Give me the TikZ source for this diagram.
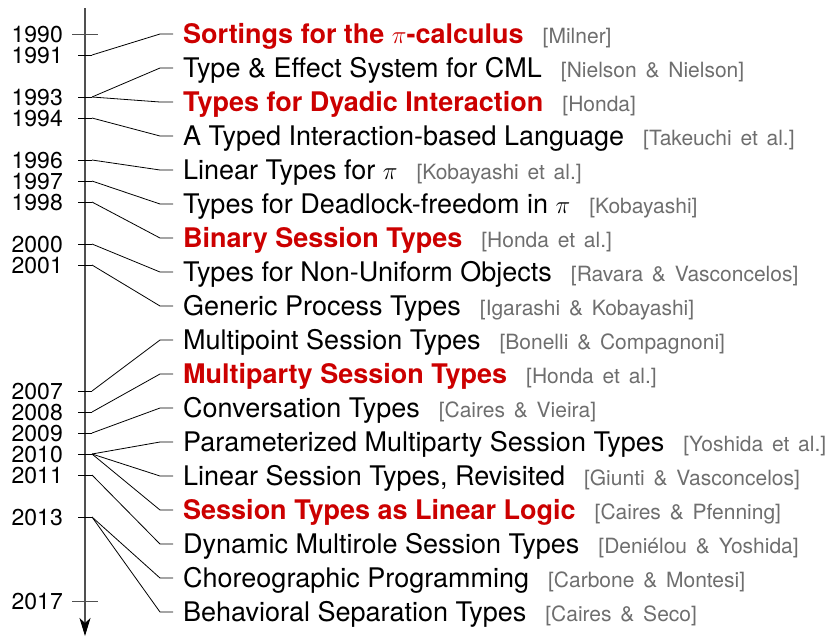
\documentclass[tikz,border=0pt]{standalone}
\usepackage{fontspec}
\setmainfont{TeX Gyre Heros}
\usetikzlibrary{arrows.meta}

\definecolor{keyred}{HTML}{CC0000}
\definecolor{citegray}{HTML}{6E6E6E}
\definecolor{axisgray}{HTML}{505050}

% citation text: smaller, grey, loosely spaced
\newcommand{\citetext}[1]{{\fontsize{21}{24}\selectfont\spaceskip=8.8pt\color{citegray}[#1]}}
% paper title and citation
\newcommand{\paper}[2]{#1\hspace{19pt}\citetext{#2}}
\newcommand{\keypaper}[2]{{\bfseries\color{keyred}#1}\hspace{19pt}\citetext{#2}}

\tikzset{
  yearlabel/.style={anchor=base east, inner sep=0pt, font=\fontsize{23}{26}\selectfont},
  entry/.style={anchor=base west, inner sep=0pt, font=\fontsize{27}{30}\selectfont},
  tickmark/.style={line width=0.9pt, black},
  longtick/.style={line width=0.9pt, axisgray},
  link/.style={line width=0.8pt, black},
  timeaxis/.style={line width=1.1pt, axisgray, -{Stealth[length=18pt, width=11pt, inset=5pt, color=black]}}
}

\begin{document}
\begin{tikzpicture}[x=1pt, y=-1pt]
  \useasboundingbox (0,0) rectangle (825,638);

  % time axis
  \coordinate (axtop) at (85,8);
  \coordinate (axbot) at (85,636);
  \draw[timeaxis] (axtop) -- (axbot);

  % years: a short tick ending at (92,y), labelled on the left
  \foreach \yr in {1991,1993,1994,1996,1997,1998,2000,2001,2007,2008,2009,2010,2011,2013} {
    \pgfmathsetmacro{\yy}{34+21*(\yr-1990)}
    \coordinate (tl\yr) at (78,\yy);
    \coordinate (y\yr) at (92,\yy);
    \draw[tickmark] (tl\yr) -- (y\yr);
    \node[yearlabel] (lab\yr) at (63,\yy+8.2) {\yr};
  }
  % the two bounding years get a full cross tick
  \foreach \yr in {1990,2017} {
    \pgfmathsetmacro{\yy}{34+21*(\yr-1990)}
    \coordinate (tl\yr) at (72,\yy);
    \coordinate (tr\yr) at (98,\yy);
    \draw[longtick] (tl\yr) -- (tr\yr);
    \node[yearlabel] (lab\yr) at (63,\yy+8.2) {\yr};
  }

  % entries: (index / year / text)
  \foreach \k/\yr/\txt in {
     1/1991/{\keypaper{Sortings for the $\pi$-calculus}{Milner}},
     2/1993/{\paper{Type \& Effect System for CML}{Nielson \& Nielson}},
     3/1993/{\keypaper{Types for Dyadic Interaction}{Honda}},
     4/1994/{\paper{A Typed Interaction-based Language}{Takeuchi et al.}},
     5/1996/{\paper{Linear Types for $\pi$}{Kobayashi et al.}},
     6/1997/{\paper{Types for Deadlock-freedom in $\pi$}{Kobayashi}},
     7/1998/{\keypaper{Binary Session Types}{Honda et al.}},
     8/2000/{\paper{Types for Non-Uniform Objects}{Ravara \& Vasconcelos}},
     9/2001/{\paper{Generic Process Types}{Igarashi \& Kobayashi}},
    10/2007/{\paper{Multipoint Session Types}{Bonelli \& Compagnoni}},
    11/2008/{\keypaper{Multiparty Session Types}{Honda et al.}},
    12/2009/{\paper{Conversation Types}{Caires \& Vieira}},
    13/2010/{\paper{Parameterized Multiparty Session Types}{Yoshida et al.}},
    14/2010/{\paper{Linear Session Types, Revisited}{Giunti \& Vasconcelos}},
    15/2010/{\keypaper{Session Types as Linear Logic}{Caires \& Pfenning}},
    16/2011/{\paper{Dynamic Multirole Session Types}{Deniélou \& Yoshida}},
    17/2013/{\paper{Choreographic Programming}{Carbone \& Montesi}},
    18/2013/{\paper{Behavioral Separation Types}{Caires \& Seco}}} {
    \pgfmathsetmacro{\ye}{34*\k}
    \coordinate (bend\k) at (160,\ye);
    \coordinate (end\k) at (173,\ye);
    \node[entry] (e\k) at (183,\ye+9) {\txt};
    \draw[link] (y\yr) -- (bend\k) -- (end\k);
  }
\end{tikzpicture}
\end{document}
